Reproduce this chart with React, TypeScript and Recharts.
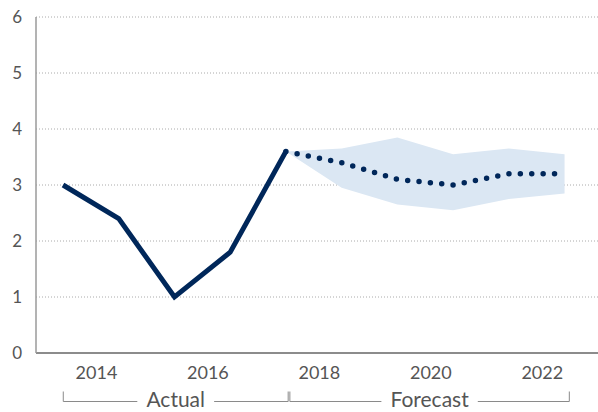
import React from "react";
import {
  ComposedChart,
  Area,
  Line,
  XAxis,
  YAxis,
  CartesianGrid,
} from "recharts";

// periods sit a little before each year label (fiscal-year style)
const periods = [2013.4, 2014.4, 2015.4, 2016.4, 2017.4, 2018.4, 2019.4, 2020.4, 2021.4, 2022.4];
const actual = [3.0, 2.4, 1.0, 1.8, 3.6, null, null, null, null, null];
const forecast = [null, null, null, null, 3.6, 3.4, 3.1, 3.0, 3.2, 3.2];
const bandLow = [null, null, null, null, 3.6, 2.95, 2.65, 2.55, 2.75, 2.85];
const bandHigh = [null, null, null, null, 3.6, 3.65, 3.85, 3.55, 3.65, 3.55];
const yearTicks = [2014, 2016, 2018, 2020, 2022];
const yTicks = [0, 1, 2, 3, 4, 5, 6];

const W = 598;
const H = 412;
const M = { top: 17, right: 0, left: 0, bottom: 29 };
const Y_AXIS_W = 36;
const X_DOMAIN: [number, number] = [2012.915, 2022.91];

const NAVY = "#00275a";
const BAND = "#dbe7f3";
const GREY = "#555";
const FONT = "Lato, 'Noto Sans', sans-serif";

const data = periods.map((t, i) => ({
  t,
  actual: actual[i],
  forecast: forecast[i],
  band: bandLow[i] == null ? null : [bandLow[i], bandHigh[i]],
}));

const plotLeft = M.left + Y_AXIS_W;
const plotWidth = W - plotLeft - M.right;
const xPx = (t: number) => plotLeft + ((t - X_DOMAIN[0]) / (X_DOMAIN[1] - X_DOMAIN[0])) * plotWidth;

function Bracket({ from, to, label }: { from: number; to: number; label: string }) {
  const x1 = xPx(from);
  const x2 = xPx(to);
  const mid = (x1 + x2) / 2;
  const y = 401.5;
  const gap = label.length * 4.9 + 9;
  return (
    <g>
      <line x1={x1} y1={y - 10} x2={x1} y2={y} stroke="#8a8a8a" strokeWidth={1} />
      <line x1={x2} y1={y - 10} x2={x2} y2={y} stroke="#8a8a8a" strokeWidth={1} />
      <line x1={x1} y1={y} x2={mid - gap} y2={y} stroke="#8a8a8a" strokeWidth={1} />
      <line x1={mid + gap} y1={y} x2={x2} y2={y} stroke="#8a8a8a" strokeWidth={1} />
      <text x={mid} y={y + 5.5} textAnchor="middle" fill={GREY} fontSize={21} fontFamily={FONT}>
        {label}
      </text>
    </g>
  );
}

export default function App() {
  return (
    <div style={{ position: "absolute", left: 0, top: 0, width: W, height: H, background: "#fff" }}>
      <ComposedChart width={W} height={H} data={data} margin={M}>
        <CartesianGrid
          vertical={false}
          stroke="#aaa"
          strokeDasharray="1 2"
          horizontalValues={[1, 2, 3, 4, 5, 6]}
        />
        <XAxis
          dataKey="t"
          type="number"
          domain={X_DOMAIN}
          ticks={yearTicks}
          allowDecimals={false}
          tickLine={false}
          tickSize={0}
          tickMargin={13}
          height={30}
          axisLine={{ stroke: "#8c8c8c", strokeWidth: 2 }}
          tick={{ fill: GREY, fontSize: 18, fontFamily: FONT }}
        />
        <YAxis
          domain={[0, 6]}
          ticks={yTicks}
          width={Y_AXIS_W}
          tickLine={false}
          tickSize={0}
          tickMargin={14}
          axisLine={{ stroke: "#9a9a9a", strokeWidth: 1.5 }}
          tick={{ fill: GREY, fontSize: 17, fontFamily: FONT }}
        />
        <Area
          dataKey="band"
          stroke="none"
          fill={BAND}
          fillOpacity={1}
          type="linear"
          connectNulls={false}
          isAnimationActive={false}
          dot={false}
          activeDot={false}
        />
        <Line
          dataKey="actual"
          stroke={NAVY}
          strokeWidth={5}
          type="linear"
          dot={false}
          activeDot={false}
          strokeLinejoin="miter"
          isAnimationActive={false}
        />
        <Line
          dataKey="forecast"
          stroke={NAVY}
          strokeWidth={5.5}
          strokeDasharray="0 11.4"
          strokeLinecap="round"
          type="linear"
          dot={false}
          activeDot={false}
          isAnimationActive={false}
        />
      </ComposedChart>
      <svg width={W} height={H} style={{ position: "absolute", left: 0, top: 0, pointerEvents: "none" }}>
        <Bracket from={periods[0]} to={periods[4]} label="Actual" />
        <Bracket from={periods[4] + 0.03} to={periods[9]} label="Forecast" />
      </svg>
    </div>
  );
}
